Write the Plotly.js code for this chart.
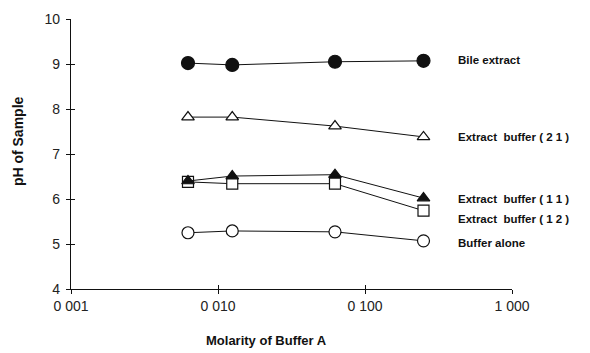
<!DOCTYPE html>
<html>
<head>
<meta charset="utf-8">
<script src="https://cdn.plot.ly/plotly-3.0.1.min.js"></script>
<style>
  html, body { margin: 0; padding: 0; background: #fff; }
  #chart { width: 590px; height: 353px; }
</style>
</head>
<body>
<div id="chart"></div>
<script>
// Molarity of buffer A (M)
const molarity = [0.00625, 0.0125, 0.0625, 0.25];

// pH of each sample series
const bileExtract   = [9.02, 8.98, 9.05, 9.07];
const extractBuf21  = [7.82, 7.82, 7.62, 7.38];
const extractBuf11  = [6.40, 6.51, 6.54, 6.02];
const extractBuf12  = [6.38, 6.34, 6.34, 5.74];
const bufferAlone   = [5.25, 5.29, 5.27, 5.07];

const seriesNames = ['Bile extract', 'Extract  buffer ( 2 1 )', 'Extract  buffer ( 1 1 )',
                     'Extract  buffer ( 1 2 )', 'Buffer alone'];
// vertical position (pH units) of each series label at the right
const labelY = [9.10, 7.38, 6.00, 5.56, 5.02];

const xTickVals = [0.001, 0.01, 0.1, 1];
const xTickText = ['0 001', '0 010', '0 100', '1 000'];
const yTickVals = [4, 5, 6, 7, 8, 9, 10];

const lineStyle = { color: '#111', width: 1 };

function series(y, symbol, fill, size) {
  return {
    x: molarity, y: y, type: 'scatter', mode: 'lines+markers',
    line: lineStyle,
    marker: { symbol: symbol, size: size, color: fill, line: { color: '#111', width: 1.2 } },
    showlegend: false, hoverinfo: 'x+y'
  };
}

const traces = [
  series(bufferAlone, 'circle', '#fff', 12),
  series(extractBuf12, 'square', '#fff', 11),
  series(extractBuf11, 'triangle-up', '#111', 11),
  series(extractBuf21, 'triangle-up', '#fff', 11),
  series(bileExtract, 'circle', '#111', 13)
];

const tickFont = { family: 'Liberation Sans, Arial, sans-serif', size: 14, color: '#222' };
const labelFont = { family: 'Liberation Sans, Arial, sans-serif', size: 11.5, color: '#111', weight: 'bold' };

const annotations = seriesNames.map((name, i) => ({
  text: '<b>' + name + '</b>', xref: 'paper', yref: 'y', x: 0.872, y: labelY[i],
  xanchor: 'left', yanchor: 'middle', showarrow: false, font: labelFont
}));

annotations.push({
  text: '<b>Molarity of Buffer A</b>', xref: 'paper', yref: 'paper', x: 0.444, y: -0.19,
  xanchor: 'center', yanchor: 'middle', showarrow: false,
  font: { family: 'Liberation Sans, Arial, sans-serif', size: 13, color: '#111' }
});
annotations.push({
  text: '<b>pH of Sample</b>', xref: 'paper', yref: 'paper', x: -0.12, y: 0.548,
  xanchor: 'center', yanchor: 'middle', textangle: -90, showarrow: false,
  font: { family: 'Liberation Sans, Arial, sans-serif', size: 14, color: '#111' }
});

const baseX = {
  type: 'log', range: [-3, 0], tickvals: xTickVals, ticktext: xTickText,
  showgrid: false, zeroline: false, showline: true, linecolor: '#111', linewidth: 1.2,
  tickcolor: '#111', ticklen: 4, tickwidth: 1, tickfont: tickFont
};
const baseY = {
  range: [4, 10], tickvals: yTickVals, showgrid: false, zeroline: false,
  showline: true, linecolor: '#111', linewidth: 1.2,
  tickcolor: '#111', ticklen: 4, tickwidth: 1, tickfont: tickFont
};

const layout = {
  width: 590, height: 353,
  margin: { l: 71, r: 78, t: 19, b: 64 },
  paper_bgcolor: '#fff', plot_bgcolor: '#fff',
  xaxis: Object.assign({}, baseX, { ticks: 'outside' }),
  yaxis: Object.assign({}, baseY, { ticks: 'outside', ticklabelstandoff: 3 }),
  // overlay axes give the tick marks their inner half so they cross the axis lines
  xaxis2: Object.assign({}, baseX, { ticks: 'inside', overlaying: 'x', anchor: 'y', showticklabels: false }),
  yaxis2: Object.assign({}, baseY, { ticks: 'inside', overlaying: 'y', anchor: 'x', showticklabels: false }),
  annotations: annotations
};

// an invisible trace binds the overlay axes so they are drawn
traces.unshift({ x: [molarity[0]], y: [bufferAlone[0]], xaxis: 'x2', yaxis: 'y2',
  type: 'scatter', mode: 'markers', marker: { opacity: 0 }, showlegend: false, hoverinfo: 'skip' });

Plotly.newPlot('chart', traces, layout, { displayModeBar: false, staticPlot: true });
</script>
</body>
</html>
